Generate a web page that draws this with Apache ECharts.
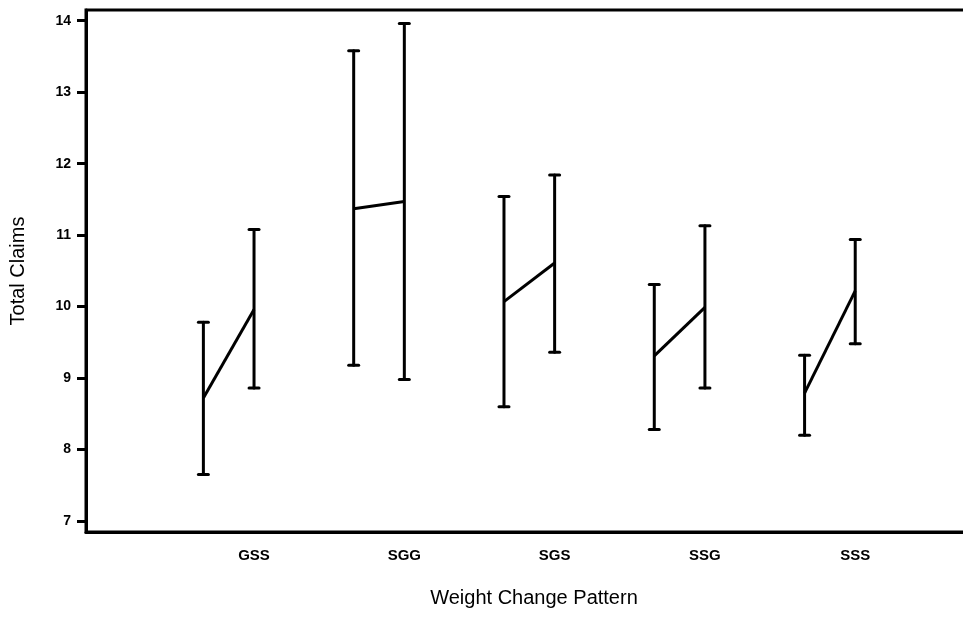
<!DOCTYPE html>
<html>
<head>
<meta charset="utf-8">
<script src="https://cdn.jsdelivr.net/npm/echarts@6/dist/echarts.min.js"></script>
<style>
html,body{margin:0;padding:0;background:#fff;}
#chart{width:963px;height:617px;}
</style>
</head>
<body>
<div id="chart"></div>
<script>
// Categories and tick labels
const categories = ['GSS', 'SGG', 'SGS', 'SSG', 'SSS'];
const yTicks = [7, 8, 9, 10, 11, 12, 13, 14];

// First error bar of each group
const meanA = [8.72, 11.37, 10.07, 9.31, 8.79];
const lowA  = [7.65, 9.18, 8.60, 8.28, 8.20];
const highA = [9.78, 13.58, 11.54, 10.31, 9.32];

// Second error bar of each group
const meanB = [9.96, 11.47, 10.61, 9.99, 10.22];
const lowB  = [8.86, 8.98, 9.36, 8.86, 9.48];
const highB = [11.08, 13.96, 11.84, 11.13, 10.94];

const offsetA = -0.337; // position of first bar relative to group centre
const groupPos = categories.map((c, i) => i + 1);

const errData = [];
groupPos.forEach((g, i) => {
  errData.push([g + offsetA, lowA[i], highA[i]]);
  errData.push([g, lowB[i], highB[i]]);
});

const series = [{
  type: 'custom',
  data: errData,
  encode: { x: 0, y: [1, 2] },
  clip: false,
  renderItem: function (params, api) {
    const x = api.value(0);
    const lo = api.coord([x, api.value(1)]);
    const hi = api.coord([x, api.value(2)]);
    const hw = 5;
    const style = { stroke: '#000', lineWidth: 3, lineCap: 'round' };
    return {
      type: 'group',
      children: [
        { type: 'line', shape: { x1: lo[0], y1: lo[1], x2: hi[0], y2: hi[1] }, style: style },
        { type: 'line', shape: { x1: lo[0] - hw, y1: lo[1], x2: lo[0] + hw, y2: lo[1] }, style: style },
        { type: 'line', shape: { x1: hi[0] - hw, y1: hi[1], x2: hi[0] + hw, y2: hi[1] }, style: style }
      ]
    };
  }
}];

groupPos.forEach((g, i) => {
  series.push({
    type: 'line',
    data: [[g + offsetA, meanA[i]], [g, meanB[i]]],
    showSymbol: false,
    symbol: 'none',
    lineStyle: { color: '#000', width: 3 },
    silent: true,
    animation: false
  });
});

const FONT = 'Liberation Sans, Arial, sans-serif';
const chart = echarts.init(document.getElementById('chart'));
chart.setOption({
  animation: false,
  backgroundColor: '#fff',
  grid: {
    left: 86, right: -3, top: 10, bottom: 85,
    containLabel: false,
    outerBoundsMode: 'none',
    show: true, borderColor: '#000', borderWidth: 3, backgroundColor: 'transparent'
  },
  xAxis: {
    type: 'value',
    min: -0.118, max: 5.737,
    splitLine: { show: false },
    axisLine: { show: true, onZero: false, lineStyle: { color: '#000', width: 3 } },
    axisTick: { show: false },
    axisLabel: {
      customValues: groupPos,
      formatter: v => categories[Math.round(v) - 1] || '',
      color: '#000', fontFamily: FONT,
      fontWeight: 'bold', fontSize: 15, margin: 16
    },
    name: 'Weight Change Pattern',
    nameLocation: 'middle',
    nameGap: 56,
    nameTextStyle: { color: '#000', fontFamily: FONT, fontSize: 20, padding: [0, 0, 0, 16] }
  },
  yAxis: {
    type: 'value',
    min: 6.846, max: 14.15,
    splitLine: { show: false },
    axisLine: { show: true, onZero: false, lineStyle: { color: '#000', width: 3 } },
    axisTick: { show: true, inside: false, customValues: yTicks, length: 9, lineStyle: { color: '#000', width: 3 } },
    axisLabel: {
      customValues: yTicks,
      color: '#000', fontFamily: FONT,
      fontWeight: 'bold', fontSize: 14, margin: 15
    },
    name: 'Total Claims',
    nameLocation: 'middle',
    nameGap: 58,
    nameRotate: 90,
    nameTextStyle: { color: '#000', fontFamily: FONT, fontSize: 20 }
  },
  series: series
});
</script>
</body>
</html>
